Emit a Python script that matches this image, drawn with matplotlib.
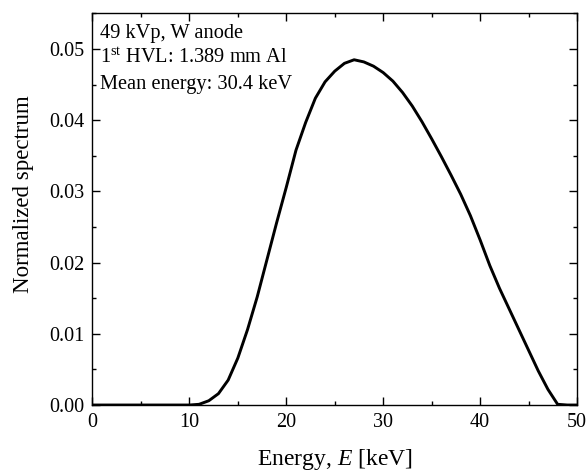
#!/usr/bin/env python3

import matplotlib

matplotlib.use('agg')

import matplotlib.pyplot as plt
from matplotlib.ticker import MultipleLocator

# Spectrum, 1 keV bins
energy = [0, 1, 2, 3, 4, 5, 6, 7, 8, 9, 10, 11, 12, 13, 14, 15, 16, 17, 18, 19,
          20, 21, 22, 23, 24, 25, 26, 27, 28, 29, 30, 31, 32, 33, 34, 35, 36, 37,
          38, 39, 40, 41, 42, 43, 44, 45, 46, 47, 48, 49, 50]
spectrum = [0, 0, 0, 0, 0, 0, 0, 0, 0, 0, 0.0, 0.0001, 0.0006, 0.0016, 0.0035,
            0.0066, 0.0106, 0.0152, 0.0204, 0.0256, 0.0306, 0.0358, 0.0397,
            0.0431, 0.0454, 0.0469, 0.0480, 0.0485, 0.0482, 0.0476, 0.0467,
            0.0455, 0.0439, 0.0420, 0.0398, 0.0374, 0.0349, 0.0323, 0.0296,
            0.0266, 0.0232, 0.0196, 0.0164, 0.0135, 0.0106, 0.0077, 0.0048,
            0.0022, 0.0001, 0.0, 0.0]

info_lines = ['49 kVp, W anode',
              r'1$^{\rm st}$ HVL: 1.389 mm Al',
              'Mean energy: 30.4 keV']
info_y = [0.937, 0.873, 0.807]  # baselines in axes coords

plt.rcParams['font.family'] = 'Liberation Serif'
plt.rcParams['mathtext.fontset'] = 'custom'
plt.rcParams['mathtext.rm'] = 'Liberation Serif'
plt.rcParams['mathtext.it'] = 'Liberation Serif:italic'
plt.rcParams['axes.linewidth'] = 1.0

fig = plt.figure(figsize=(5.88, 4.72), dpi=100)
ax = fig.add_axes([0.1573, 0.1419, 0.9813 - 0.1573, 0.9714 - 0.1419])

ax.plot(energy, spectrum, color='black', linewidth=2.1)

ax.set_xlim(0, 50)
ax.set_ylim(0, 0.055)
ax.xaxis.set_major_locator(MultipleLocator(10))
ax.xaxis.set_minor_locator(MultipleLocator(5))
ax.yaxis.set_major_locator(MultipleLocator(0.01))
ax.yaxis.set_minor_locator(MultipleLocator(0.005))
ax.yaxis.set_major_formatter(lambda v, pos: f'{v:.2f}')
ax.tick_params(which='both', direction='in', top=True, right=True, width=1.0)
ax.tick_params(which='major', length=6, labelsize=14.5, pad=6)
ax.tick_params(which='minor', length=3)

ax.set_xlabel('Energy, $E$ [keV]', fontsize=17)
ax.set_ylabel('Normalized spectrum', fontsize=16.5)
ax.xaxis.set_label_coords(0.5, -0.106)
ax.yaxis.set_label_coords(-0.121, 0.539)

for line, y in zip(info_lines, info_y):
    ax.text(0.0155, y, line, transform=ax.transAxes,
            ha='left', va='baseline', fontsize=14.7)

fig.savefig('out.png', dpi=100)
